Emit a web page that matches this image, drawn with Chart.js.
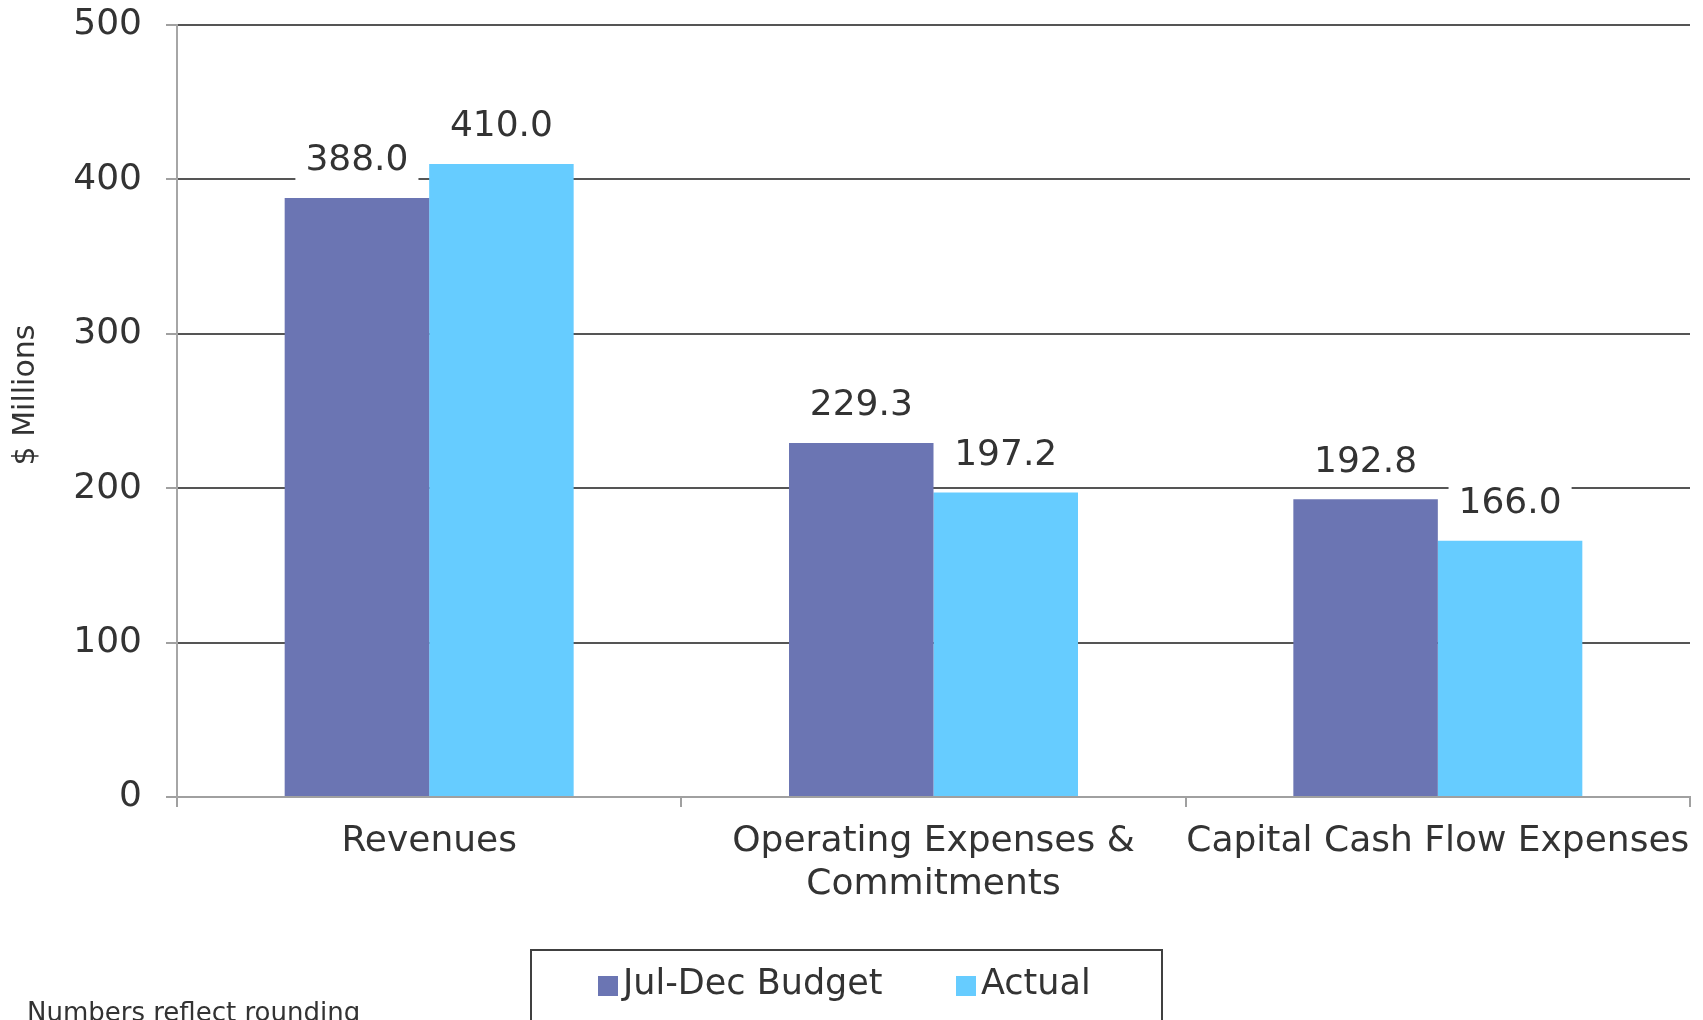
<!DOCTYPE html>
<html>
<head>
<meta charset="utf-8">
<script src="https://cdn.jsdelivr.net/npm/chart.js@4/dist/chart.umd.min.js"></script>
<style>
  html, body { margin: 0; padding: 0; background: #ffffff; }
  #wrap { width: 1703px; height: 1020px; position: relative; }
</style>
</head>
<body>
<div id="wrap"><canvas id="c"></canvas></div>
<script>
const categories = [["Revenues"], ["Operating Expenses &", "Commitments"], ["Capital Cash Flow Expenses"]];
const budgetValues = [388.0, 229.3, 192.8];
const actualValues = [410.0, 197.2, 166.0];
const seriesNames = ["Jul-Dec Budget", "Actual"];
const yTicks = [0, 100, 200, 300, 400, 500];
const yTitle = "$ Millions";
const footNote = "Numbers reflect rounding";

const FONT = "'DejaVu Sans', sans-serif";
const TEXT = '#333333';
const budgetColor = '#6B75B3';
const actualColor = '#66CCFF';
const LABEL_FONT = '36px ' + FONT;

const labelPlugin = {
  id: 'valueLabels',
  beforeDatasetsDraw(chart) {
    const ctx = chart.ctx;
    ctx.save();
    ctx.font = LABEL_FONT;
    chart.data.datasets.forEach((ds, i) => {
      chart.getDatasetMeta(i).data.forEach((bar, j) => {
        const txt = ds.data[j].toFixed(1);
        const w = ctx.measureText(txt).width;
        const cy = bar.y - 37;
        ctx.fillStyle = '#ffffff';
        ctx.fillRect(bar.x - w / 2 - 10, cy - 22, w + 20, 44);
      });
    });
    ctx.restore();
  },
  afterDatasetsDraw(chart) {
    const ctx = chart.ctx;
    ctx.save();
    ctx.font = LABEL_FONT;
    ctx.fillStyle = TEXT;
    ctx.textAlign = 'center';
    ctx.textBaseline = 'middle';
    chart.data.datasets.forEach((ds, i) => {
      chart.getDatasetMeta(i).data.forEach((bar, j) => {
        ctx.fillText(ds.data[j].toFixed(1), bar.x, bar.y - 37);
      });
    });
    ctx.restore();
  },
  afterDraw(chart) {
    const ctx = chart.ctx;
    ctx.save();
    // y-axis title
    ctx.font = '30px ' + FONT;
    ctx.fillStyle = TEXT;
    ctx.textAlign = 'center';
    ctx.textBaseline = 'middle';
    ctx.translate(26, 395);
    ctx.rotate(-Math.PI / 2);
    ctx.fillText(yTitle, 0, 0);
    ctx.restore();

    ctx.save();
    // legend box
    ctx.strokeStyle = '#404040';
    ctx.lineWidth = 2;
    ctx.strokeRect(531, 950, 631, 100);
    ctx.font = '35px ' + FONT;
    ctx.textBaseline = 'middle';
    ctx.textAlign = 'left';
    const items = chart.data.datasets.map(d => ({ label: d.label, color: d.backgroundColor }));
    const xs = [598, 956];
    items.forEach((it, k) => {
      ctx.fillStyle = it.color;
      ctx.fillRect(xs[k], 976, 20, 20);
      ctx.fillStyle = TEXT;
      ctx.fillText(it.label, xs[k] + 25, 985);
    });
    // footnote
    ctx.font = '26px ' + FONT;
    ctx.textBaseline = 'top';
    ctx.fillStyle = TEXT;
    ctx.fillText(footNote, 27, 1001);
    ctx.restore();
  }
};

new Chart(document.getElementById('c'), {
  type: 'bar',
  data: {
    labels: categories,
    datasets: [
      { label: seriesNames[0], data: budgetValues, backgroundColor: budgetColor, borderWidth: 0 },
      { label: seriesNames[1], data: actualValues, backgroundColor: actualColor, borderWidth: 0 }
    ]
  },
  options: {
    responsive: true,
    maintainAspectRatio: false,
    animation: false,
    devicePixelRatio: 1,
    layout: { padding: { top: 25, right: 13, bottom: 103, left: 0 } },
    plugins: { legend: { display: false }, tooltip: { enabled: false } },
    datasets: { bar: { categoryPercentage: 0.573, barPercentage: 1.0 } },
    scales: {
      x: {
        afterFit(s) { s.height = 120; s.paddingLeft = 0; s.paddingRight = 0; },
        grid: { display: true, drawOnChartArea: false, drawTicks: true, tickLength: 10, color: '#a0a0a0', lineWidth: 2, offset: true },
        border: { display: true, color: '#a0a0a0', width: 2 },
        ticks: { color: TEXT, font: { family: FONT, size: 36 }, lineHeight: 1.2, padding: 13, maxRotation: 0, autoSkip: false }
      },
      y: {
        min: 0, max: 500,
        afterFit(s) { s.width = 177; s.paddingTop = 0; s.paddingBottom = 0; },
        afterBuildTicks(s) { s.ticks = yTicks.map(v => ({ value: v })); },
        grid: { color: '#555555', lineWidth: 2, tickLength: 11, tickColor: '#a0a0a0', tickWidth: 2 },
        border: { display: true, color: '#a6a6a6', width: 2 },
        ticks: { color: TEXT, font: { family: FONT, size: 36 }, padding: 24 }
      }
    }
  },
  plugins: [labelPlugin]
});
</script>
</body>
</html>
